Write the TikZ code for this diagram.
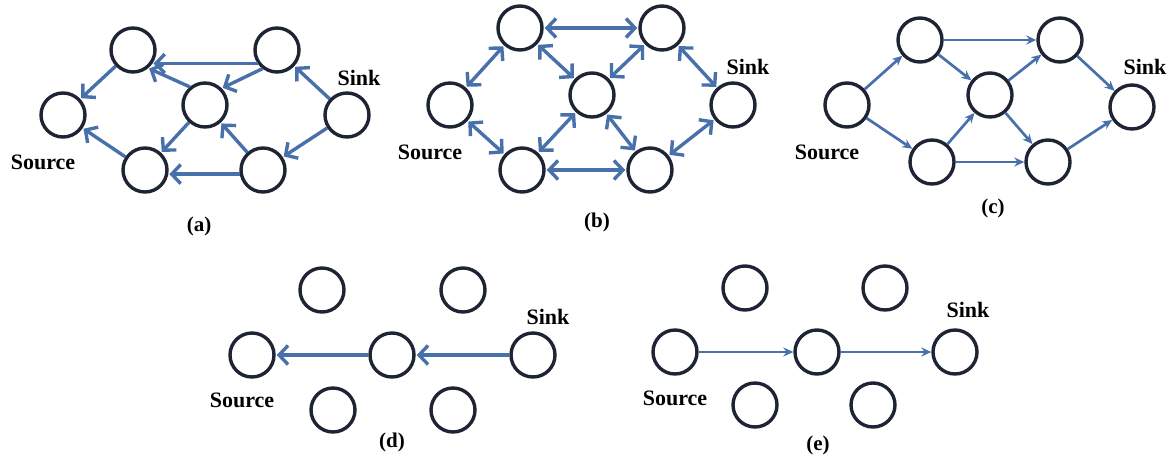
\documentclass[tikz,border=0pt]{standalone}
\usepackage{fontspec}
\setmainfont{Liberation Serif}
\definecolor{rim}{RGB}{30,36,52}
\definecolor{flow}{RGB}{72,112,170}
\usetikzlibrary{arrows.meta}
\tikzset{
  vert/.style={circle,draw=rim,line width=3.4pt,minimum size=44pt,inner sep=0pt},
  back/.style={-{Straight Barb[length=9pt,width=19pt]},line width=3.4pt,draw=flow,shorten >=1pt},
  both/.style={{Straight Barb[length=9pt,width=19pt]}-{Straight Barb[length=9pt,width=19pt]},
               line width=3.4pt,draw=flow,shorten >=1pt,shorten <=1pt},
  fwd/.style={-{Stealth[length=10pt,width=9pt]},line width=2.7pt,draw=flow},
  tag/.style={font=\fontsize{22}{24}\selectfont\bfseries,inner sep=0pt},
  panel/.style={font=\fontsize{21}{23}\selectfont\bfseries,inner sep=0pt},
}
\begin{document}
\begin{tikzpicture}[x=1pt,y=-1pt]
  \useasboundingbox (0,0) rectangle (1173,464);

  \node[vert] (a-tl) at (133,50) {};
  \node[vert] (a-tr) at (277,50) {};
  \node[vert] (a-l) at (63,115) {};
  \node[vert] (a-c) at (205,105) {};
  \node[vert] (a-r) at (347,115) {};
  \node[vert] (a-bl) at (145,170) {};
  \node[vert] (a-br) at (263,170) {};
  \node[tag] (a-src) at (43,162) {Source};
  \node[tag] (a-snk) at (359,78) {Sink};
  \node[panel] (a-cap) at (199,226) {(a)};
  \draw[back] (a-tl) -- (a-l);
  \draw[back] (a-tr.215) -- (a-tl.-35);
  \draw[back] (a-tr.232) -- (a-c.45);
  \draw[back] (a-c.130) -- (a-tl.-50);
  \draw[back] (a-r) -- (a-tr);
  \draw[back] (a-r) -- (a-br);
  \draw[back] (a-br) -- (a-c);
  \draw[back] (a-c) -- (a-bl);
  \draw[back] (a-br.190) -- (a-bl.-10);
  \draw[back] (a-bl) -- (a-l);

  \node[vert] (b-tl) at (520,28) {};
  \node[vert] (b-tr) at (662,28) {};
  \node[vert] (b-l) at (450,105) {};
  \node[vert] (b-c) at (592,95) {};
  \node[vert] (b-r) at (733,105) {};
  \node[vert] (b-bl) at (522,170) {};
  \node[vert] (b-br) at (650,170) {};
  \node[tag] (b-src) at (430,152) {Source};
  \node[tag] (b-snk) at (748,67) {Sink};
  \node[panel] (b-cap) at (597,222) {(b)};
  \draw[both] (b-tl) -- (b-tr);
  \draw[both] (b-tl) -- (b-l);
  \draw[both] (b-tl) -- (b-c);
  \draw[both] (b-tr) -- (b-c);
  \draw[both] (b-tr) -- (b-r);
  \draw[both] (b-l) -- (b-bl);
  \draw[both] (b-c) -- (b-bl);
  \draw[both] (b-c) -- (b-br);
  \draw[both] (b-br) -- (b-r);
  \draw[both] (b-bl) -- (b-br);

  \node[vert] (c-tl) at (920,40) {};
  \node[vert] (c-tr) at (1060,40) {};
  \node[vert] (c-l) at (847,105) {};
  \node[vert] (c-c) at (990,95) {};
  \node[vert] (c-r) at (1132,107) {};
  \node[vert] (c-bl) at (932,162) {};
  \node[vert] (c-br) at (1048,162) {};
  \node[tag] (c-src) at (827,152) {Source};
  \node[tag] (c-snk) at (1145,67) {Sink};
  \node[panel] (c-cap) at (993,208) {(c)};
  \draw[fwd] (c-l) -- (c-tl);
  \draw[fwd] (c-l) -- (c-bl);
  \draw[fwd] (c-tl) -- (c-tr);
  \draw[fwd] (c-tl) -- (c-c);
  \draw[fwd] (c-bl) -- (c-c);
  \draw[fwd] (c-bl) -- (c-br);
  \draw[fwd] (c-c) -- (c-tr);
  \draw[fwd] (c-c) -- (c-br);
  \draw[fwd] (c-tr) -- (c-r);
  \draw[fwd] (c-br) -- (c-r);

  \node[vert] (d-tl) at (322,290) {};
  \node[vert] (d-tr) at (463,290) {};
  \node[vert] (d-l) at (252,355) {};
  \node[vert] (d-c) at (392,355) {};
  \node[vert] (d-r) at (533,355) {};
  \node[vert] (d-bl) at (333,410) {};
  \node[vert] (d-br) at (453,410) {};
  \node[tag] (d-src) at (242,400) {Source};
  \node[tag] (d-snk) at (548,317) {Sink};
  \node[panel] (d-cap) at (392,442) {(d)};
  \draw[back] (d-r) -- (d-c);
  \draw[back] (d-c) -- (d-l);

  \node[vert] (e-tl) at (745,288) {};
  \node[vert] (e-tr) at (885,288) {};
  \node[vert] (e-l) at (675,352) {};
  \node[vert] (e-c) at (817,352) {};
  \node[vert] (e-r) at (955,352) {};
  \node[vert] (e-bl) at (755,405) {};
  \node[vert] (e-br) at (873,405) {};
  \node[tag] (e-src) at (675,398) {Source};
  \node[tag] (e-snk) at (968,310) {Sink};
  \node[panel] (e-cap) at (818,445) {(e)};
  \draw[fwd] (e-l) -- (e-c);
  \draw[fwd] (e-c) -- (e-r);
\end{tikzpicture}
\end{document}
